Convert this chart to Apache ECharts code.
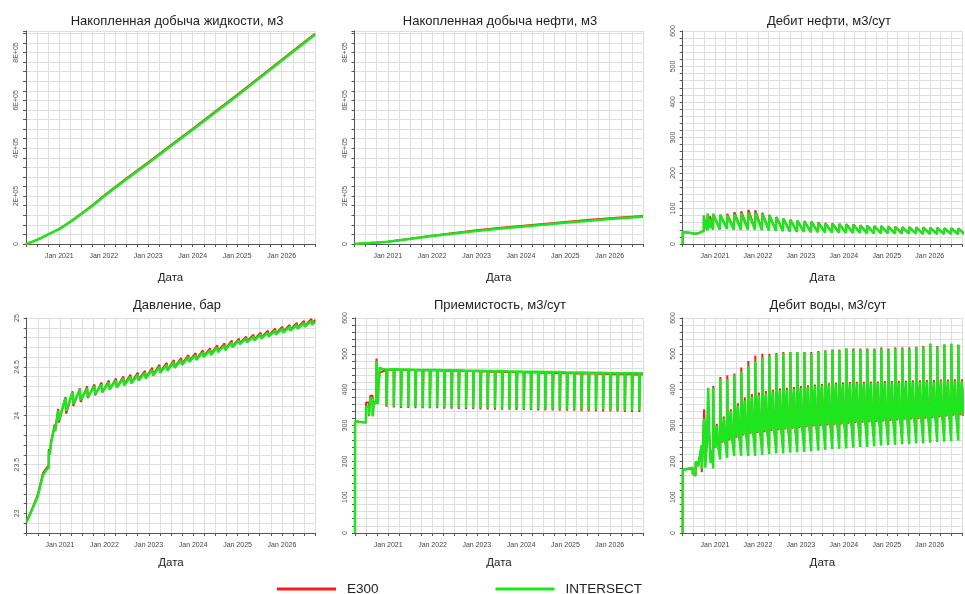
<!DOCTYPE html>
<html><head><meta charset="utf-8">
<script src="https://cdn.jsdelivr.net/npm/echarts@6/dist/echarts.min.js"></script>
<style>html,body{margin:0;padding:0;background:#fff}#c{width:965px;height:594px}</style>
</head><body><div id="c"></div>
<script>
// ---------- DATA ----------
const seriesNames = ['E300', 'INTERSECT'];
const titles = ['Накопленная добыча жидкости, м3', 'Накопленная добыча нефти, м3', 'Дебит нефти, м3/сут',
                'Давление, бар', 'Приемистость, м3/сут', 'Дебит воды, м3/сут'];
const xName = 'Дата';

// cumulative liquid
const cumLiqDates = ["2020-04-01","2020-06-01","2020-08-01","2020-10-01","2021-01-01","2021-04-01","2021-07-01","2021-10-01","2022-01-01","2022-07-01","2023-01-01","2023-07-01","2024-01-01","2024-07-01","2025-01-01","2025-07-01","2026-01-01","2026-07-01","2026-10-01"];
const cumLiqI = [0,11000,24000,40000,62000,92000,125000,160000,198000,268000,337000,407000,477000,548000,619000,692000,766000,838000,874000];
const cumLiqE = [0,11100,24300,40500,63000,93500,127000,162500,201000,272000,341000,411000,481000,552000,623000,696000,770000,842000,878000];

// cumulative oil
const cumOilDates = ["2020-04-01","2020-07-01","2020-10-01","2021-01-01","2021-07-01","2022-01-01","2022-07-01","2023-01-01","2023-07-01","2024-01-01","2024-07-01","2025-01-01","2025-07-01","2026-01-01","2026-07-01","2026-10-01"];
const cumOilI = [0,2900,5800,9000,20500,33000,44000,54000,63500,72000,80500,88500,96500,104000,110500,113500];
const cumOilE = [0,2900,5900,9300,21500,35000,46500,57000,66500,75500,84000,92000,100000,107500,114000,117000];

// cycle start dates (periodic well operation)
const cycleDates = ["2020-12-17","2021-02-15","2021-04-15","2021-06-14","2021-08-12","2021-10-11","2021-12-09",
"2022-02-07","2022-04-07","2022-06-06","2022-08-04","2022-10-03","2022-12-01",
"2023-01-30","2023-03-30","2023-05-29","2023-07-27","2023-09-25","2023-11-23",
"2024-01-22","2024-03-21","2024-05-20","2024-07-18","2024-09-16","2024-11-14",
"2025-01-13","2025-03-13","2025-05-12","2025-07-10","2025-09-08","2025-11-06",
"2026-01-05","2026-03-05","2026-05-04","2026-07-02","2026-08-31"];
const endDate = "2026-10-01";

// oil rate
const oilPreI = [["2020-04-01",0],["2020-04-02",34],["2020-06-10",31],["2020-07-15",29],["2020-08-10",30],["2020-09-10",34],["2020-09-28",37],["2020-09-29",78],["2020-10-15",42],["2020-10-16",62],["2020-10-30",38],["2020-10-31",86],["2020-11-20",45],["2020-11-21",70],["2020-12-16",40]];
const oilPreE = [["2020-04-01",0],["2020-04-02",34],["2020-06-10",31],["2020-07-15",29],["2020-08-10",30],["2020-09-10",34],["2020-09-28",37],["2020-09-29",80],["2020-10-15",44],["2020-10-16",66],["2020-10-30",40],["2020-10-31",82],["2020-11-20",46],["2020-11-21",78],["2020-12-16",42]];
const oilHighI = [85, 82,80,84,86,88,88, 84,80,76,72,68,66, 64,62,60,58,57,56, 55,54,52,51,50,50, 49,48,47,47,46,46, 45,45,44,44,43];
const oilLowI  = [40, 42,40,40,40,40,39, 38,37,36,35,34,34, 33,33,32,32,32,31, 31,31,30,30,30,30, 29,29,29,29,28,28, 28,28,28,27,27];
const oilHighE = [82, 82,85,90,92,96,95, 88,82,76,72,68,66, 65,63,61,59,58,57, 56,55,53,52,51,51, 50,49,48,48,47,47, 46,46,45,45,44];
const oilLowE  = [42, 44,43,43,43,43,42, 40,39,37,36,35,35, 34,34,33,33,33,32, 32,32,31,31,31,31, 30,30,30,30,29,29, 29,29,29,28,28];
const oilEndI = 33, oilEndE = 34;

// pressure
const presPreI = [["2020-04-01",22.91],["2020-05-20",23.05],["2020-07-01",23.17],["2020-08-13",23.39],["2020-09-08",23.44],["2020-09-30",23.47],["2020-10-01",23.64],["2020-10-08",23.60],["2020-10-20",23.72],["2020-11-18",23.89],["2020-11-22",23.84]];
const presPreE = [["2020-04-01",22.92],["2020-05-20",23.06],["2020-07-01",23.19],["2020-08-13",23.41],["2020-09-08",23.46],["2020-09-30",23.49],["2020-10-01",23.66],["2020-10-08",23.61],["2020-10-20",23.74],["2020-11-18",23.91],["2020-11-22",23.85]];
const presPeakI = [24.05, 24.18,24.24,24.27,24.28,24.30,24.32, 24.34,24.36,24.38,24.40,24.42,24.44, 24.47,24.50,24.52,24.55,24.57,24.60, 24.62,24.65,24.67,24.70,24.72,24.75, 24.77,24.79,24.81,24.83,24.85,24.87, 24.89,24.91,24.93,24.95,24.97];
const presLowI  = [23.95, 24.05,24.12,24.16,24.19,24.22,24.24, 24.27,24.29,24.31,24.33,24.36,24.38, 24.41,24.44,24.46,24.49,24.52,24.55, 24.57,24.60,24.62,24.65,24.67,24.70, 24.73,24.75,24.77,24.79,24.81,24.83, 24.85,24.87,24.89,24.91,24.93];
const presPeakE = [24.07, 24.19,24.25,24.28,24.30,24.32,24.34, 24.36,24.38,24.40,24.42,24.44,24.46, 24.49,24.52,24.54,24.57,24.59,24.62, 24.64,24.67,24.69,24.72,24.74,24.77, 24.79,24.81,24.83,24.85,24.87,24.89, 24.91,24.93,24.95,24.97,24.99];
const presLowE  = [23.93, 24.02,24.10,24.14,24.18,24.21,24.24, 24.27,24.29,24.32,24.34,24.37,24.39, 24.42,24.45,24.47,24.50,24.53,24.56, 24.58,24.61,24.63,24.66,24.68,24.71, 24.74,24.76,24.78,24.80,24.82,24.84, 24.86,24.88,24.90,24.92,24.94];
const presEndI = 24.96, presEndE = 24.98;

// injection
const injPreI = [["2020-04-01",0],["2020-04-02",312],["2020-07-01",308],["2020-07-02",352],["2020-07-25",352],["2020-07-26",328],["2020-08-05",328],["2020-08-06",376],["2020-08-25",376],["2020-08-26",326],["2020-09-02",326],["2020-09-03",362],["2020-09-25",362],["2020-09-26",480],["2020-10-06",478],["2020-10-07",360],["2020-10-12",360],["2020-10-13",414],["2020-10-22",414],["2020-10-23",462],["2020-11-10",458],["2020-12-16",456]];
const injPreE = [["2020-04-01",0],["2020-04-02",312],["2020-07-01",308],["2020-07-02",364],["2020-07-25",364],["2020-07-26",326],["2020-08-05",326],["2020-08-06",383],["2020-08-25",383],["2020-08-26",326],["2020-09-02",326],["2020-09-03",365],["2020-09-25",365],["2020-09-26",487],["2020-10-06",485],["2020-10-07",362],["2020-10-12",362],["2020-10-13",416],["2020-10-22",416],["2020-10-23",448],["2020-11-10",450],["2020-12-16",455]];
const injHighI = [456, 457,456,456,455,455,455, 455,454,454,454,453,453, 453,452,452,452,451,451, 450,450,450,449,449,449, 448,448,448,447,447,447, 446,446,446,446,446];
const injLowI  = [355, 353,352,352,352,351,351, 351,350,350,350,349,349, 348,348,348,347,347,347, 346,346,346,345,345,345, 344,344,344,343,343,343, 342,342,342,342,342];
const injHighE = [455, 456,455,455,455,454,454, 454,453,453,453,452,452, 451,451,450,450,449,449, 448,448,448,447,447,446, 446,446,445,445,445,444, 444,443,443,443,442];
const injLowE  = [352, 350,349,349,348,348,348, 348,347,347,346,346,346, 345,345,344,344,344,343, 343,343,342,342,342,341, 341,341,340,340,340,339, 339,339,338,338,338];
const injEndI = 446, injEndE = 442;

// water rate
const waterPreI = [["2020-04-01",0],["2020-04-02",176],["2020-06-25",182],["2020-06-26",166],["2020-07-20",160],["2020-07-21",198],["2020-08-10",196],["2020-08-11",186],["2020-08-25",215],["2020-09-10",245],["2020-09-11",178],["2020-09-20",240],["2020-10-01",320],["2020-10-10",262],["2020-10-11",182],["2020-10-25",265],["2020-11-05",405],["2020-11-15",268],["2020-11-25",195],["2020-12-16",232]];
const waterPreE = [["2020-04-01",0],["2020-04-02",176],["2020-06-25",182],["2020-06-26",166],["2020-07-20",160],["2020-07-21",198],["2020-08-10",196],["2020-08-11",186],["2020-08-25",212],["2020-09-10",242],["2020-09-11",170],["2020-09-20",238],["2020-10-01",345],["2020-10-10",255],["2020-10-11",200],["2020-10-25",250],["2020-11-05",330],["2020-11-15",262],["2020-11-25",210],["2020-12-16",235]];
const waterHighI = [405, 430,430,440,450,465,480, 490,495,500,502,505,505, 505,500,505,508,510,510, 515,510,512,512,512,515, 512,515,515,515,518,520, 528,520,526,528,525];
const waterPlatI = [300, 320,340,355,370,380,385, 390,395,398,400,402,405, 408,410,412,414,415,416, 417,418,418,419,419,420, 420,420,421,421,422,422, 422,423,423,424,424];
const waterMidI  = [240, 255,262,270,275,280,282, 285,288,290,292,294,296, 298,300,302,304,305,306, 308,310,311,312,313,314, 316,318,319,320,321,322, 324,326,328,330,332];
const waterLowI  = [180, 205,210,215,215,215,215, 218,220,222,222,224,225, 226,228,230,232,234,235, 236,238,240,240,242,244, 245,246,248,248,250,250, 252,254,255,256,258];
const waterHighE = [410, 435,440,445,462,480,495, 500,500,502,505,505,505, 505,505,508,510,512,512, 515,515,515,515,515,518, 515,518,518,518,520,522, 528,522,526,528,525];
const waterPlatE = [305, 325,345,362,378,388,392, 396,400,403,405,407,410, 412,414,416,418,419,420, 421,422,422,423,423,424, 424,425,425,426,426,427, 427,428,428,429,429];
const waterMidE  = [238, 252,258,266,272,277,279, 282,285,287,289,291,293, 295,297,299,301,302,303, 305,307,308,309,310,311, 313,315,316,317,318,319, 321,323,325,327,329];
const waterLowE  = [200, 230,235,240,242,244,245, 240,238,238,240,242,245, 250,255,260,262,264,265, 268,270,272,272,274,275, 275,276,278,278,280,280, 282,284,285,286,288];
const waterEndI = 332, waterEndE = 330;

// ---------- helpers ----------
const DAY = 86400000;
function tsToYear(t){ const y = new Date(t).getUTCFullYear(); const a = Date.UTC(y,0,1), b = Date.UTC(y+1,0,1); return y + (t-a)/(b-a); }
function toYear(s, days){ return tsToYear(Date.parse(s + 'T00:00:00Z') + (days||0)*DAY); }
function pairs(list){ return list.map(p => [toYear(p[0]), p[1]]); }
function zipDates(dates, vals){ return dates.map((d,i) => [toYear(d), vals[i]]); }
// pattern: list of [dayOffset, valuesPerCycle]
function cycles(pattern){
  const out = [];
  cycleDates.forEach((d,k) => pattern.forEach(p => out.push([toYear(d, p[0]), p[1][k]])));
  return out;
}
function withEnd(arr, v){ return arr.concat([[toYear(endDate), v]]); }

const data = {
  cumLiq: [zipDates(cumLiqDates, cumLiqE), zipDates(cumLiqDates, cumLiqI)],
  cumOil: [zipDates(cumOilDates, cumOilE), zipDates(cumOilDates, cumOilI)],
  oil: [
    withEnd(pairs(oilPreE).concat(cycles([[1, oilHighE],[57, oilLowE]])), oilEndE),
    withEnd(pairs(oilPreI).concat(cycles([[1, oilHighI],[57, oilLowI]])), oilEndI)
  ],
  pres: [
    withEnd(pairs(presPreE).concat(cycles([[0, presPeakE],[6, presLowE]])), presEndE),
    withEnd(pairs(presPreI).concat(cycles([[0, presPeakI],[6, presLowI]])), presEndI)
  ],
  inj: [
    withEnd(pairs(injPreE).concat(cycles([[0, injHighE],[1, injLowE],[6, injLowE],[7, injHighE]])), injEndE),
    withEnd(pairs(injPreI).concat(cycles([[0, injHighI],[1, injLowI],[6, injLowI],[7, injHighI]])), injEndI)
  ],
  water: [
    withEnd(pairs(waterPreE).concat(cycles([[0, waterLowE],[1, waterHighE],[4, waterPlatE],[18, waterPlatE],[19, waterMidE],[30, waterMidE],[31, waterPlatE],[42, waterPlatE],[43, waterMidE],[55, waterMidE]])), waterEndE),
    withEnd(pairs(waterPreI).concat(cycles([[0, waterLowI],[1, waterHighI],[4, waterPlatI],[18, waterPlatI],[19, waterMidI],[30, waterMidI],[31, waterPlatI],[42, waterPlatI],[43, waterMidI],[55, waterMidI]])), waterEndI)
  ]
};

// ---------- layout ----------
const FONT = 'Liberation Sans, Arial, sans-serif';
const grids = [
  {left: 26,    top: 31,  width: 289, height: 213},
  {left: 354.5, top: 31,  width: 288.5, height: 213},
  {left: 682.7, top: 31,  width: 289, height: 213},
  {left: 26.7,  top: 318, width: 288.5, height: 215},
  {left: 355,   top: 318, width: 288, height: 215},
  {left: 682.7, top: 318, width: 289, height: 215}
];
const titleCenters = [172, 495, 824, 172, 495, 823];
const titleTops = [10, 10, 10, 294, 294, 294];
const nameGaps = [28, 28, 28, 24, 24, 24];

const cumFmt = v => (Math.abs(v % 200000) < 1e-6) ? (v === 0 ? '0' : (v/100000) + 'E+05') : '';
const rateFmt = v => (Math.abs(v % 100) < 1e-6) ? String(v) : '';
const presFmt = v => { const r = Math.round(v*2); return Math.abs(v*2 - r) < 1e-6 ? String(r/2) : ''; };

const yCfg = [
  {min: 0, max: 890000, interval: 40000, fmt: cumFmt},
  {min: 0, max: 890000, interval: 40000, fmt: cumFmt},
  {min: 0, max: 600, interval: 20, fmt: rateFmt},
  {min: 22.8, max: 25, interval: 0.1, fmt: presFmt},
  {min: 0, max: 600, interval: 20, fmt: rateFmt},
  {min: 0, max: 600, interval: 20, fmt: rateFmt}
];
const seriesKeys = ['cumLiq', 'cumOil', 'oil', 'pres', 'inj', 'water'];

const axisColor = '#555';
const gridColor = '#dedede';
const RED = '#ff1a1a', GREEN = '#1ee61e';

const option = {
  animation: false,
  backgroundColor: '#fff',
  textStyle: {fontFamily: FONT},
  title: titles.map((t,i) => ({
    text: t, left: titleCenters[i], top: titleTops[i], textAlign: 'center',
    textStyle: {fontSize: 13, fontWeight: 'normal', color: '#222', fontFamily: FONT}
  })),
  legend: {
    data: seriesNames, left: 272, top: 577, icon: 'rect', itemWidth: 59, itemHeight: 3, itemGap: 117,
    textStyle: {fontSize: 13.5, color: '#222', fontFamily: FONT, padding: [0,0,0,6]}
  },
  grid: grids.map(g => Object.assign({containLabel: false}, g)),
  xAxis: grids.map((g,i) => ({
    type: 'value', gridIndex: i, min: 2020.25, max: 2026.75, interval: 0.25,
    name: xName, nameLocation: 'middle', nameGap: nameGaps[i],
    nameTextStyle: {fontSize: 11.5, color: '#222', fontFamily: FONT},
    axisLine: {show: true, lineStyle: {color: axisColor, width: 1}},
    axisTick: {show: true, length: 3, lineStyle: {color: axisColor}},
    axisLabel: {fontSize: 7, color: '#444', margin: 9, formatter: v => Number.isInteger(v) ? 'Jan ' + v : ''},
    splitLine: {show: true, lineStyle: {color: gridColor, width: 1}}
  })),
  yAxis: grids.map((g,i) => ({
    type: 'value', gridIndex: i, min: yCfg[i].min, max: yCfg[i].max, interval: yCfg[i].interval,
    axisLine: {show: true, lineStyle: {color: axisColor, width: 1}},
    axisTick: {show: true, length: 3, lineStyle: {color: axisColor}},
    axisLabel: {fontSize: 7, color: '#555', rotate: 90, margin: 6, formatter: yCfg[i].fmt},
    splitLine: {show: true, lineStyle: {color: gridColor, width: 1}}
  })),
  series: []
};

seriesKeys.forEach((key, i) => {
  option.series.push({
    name: 'E300', type: 'line', xAxisIndex: i, yAxisIndex: i, data: data[key][0],
    showSymbol: false, symbol: 'none', lineStyle: {color: RED, width: 2}, itemStyle: {color: RED}, z: 2
  });
  option.series.push({
    name: 'INTERSECT', type: 'line', xAxisIndex: i, yAxisIndex: i, data: data[key][1],
    showSymbol: false, symbol: 'none', lineStyle: {color: GREEN, width: 2.5}, itemStyle: {color: GREEN}, z: 3
  });
});

const chart = echarts.init(document.getElementById('c'), null, {renderer: 'canvas'});
chart.setOption(option);
</script>
</body></html>
